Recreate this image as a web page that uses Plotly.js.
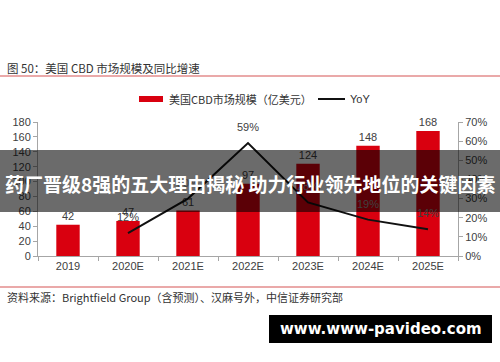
<!DOCTYPE html>
<html><head><meta charset="utf-8">
<script src="https://cdn.plot.ly/plotly-3.0.1.min.js"></script>
<style>html,body{margin:0;padding:0;background:#fff;}#chart{width:500px;height:362px;}</style>
</head><body><div id="chart"></div>
<script>
const categories = ['2019','2020E','2021E','2022E','2023E','2024E','2025E'];
const marketSize = [42, 47, 61, 97, 124, 148, 168];
const yoyCats = ['2020E','2021E','2022E','2023E','2024E','2025E'];
const yoy = [0.12, 0.30, 0.59, 0.28, 0.19, 0.14];
const yoyLabels = ['12%','30%','59%','28%','19%','14%'];
const leftTicks = [0,20,40,60,80,100,120,140,160,180];
const rightTicks = [0,0.1,0.2,0.3,0.4,0.5,0.6,0.7];
const rightTickLabels = ['0%','10%','20%','30%','40%','50%','60%','70%'];

const FONT = 'Liberation Sans, Arial, Noto Sans CJK SC, sans-serif';
const CJK = 'Noto Sans CJK SC, Liberation Sans, sans-serif';
const L = 38, R = 458, T = 122, B = 256, W = 500, H = 362;
const px = x => (x - L) / (R - L);
const py = y => (B - y) / (B - T);

const traces = [
  {type:'bar', x:categories, y:marketSize, name:'美国CBD市场规模（亿美元）',
   marker:{color:'#d9000f'}, width:0.39,
   text:marketSize.map(String), textposition:'outside', cliponaxis:false,
   textfont:{family:FONT, size:11, color:'#404040'}, hoverinfo:'skip'},
  {type:'scatter', mode:'lines', x:yoyCats, y:yoy, yaxis:'y2', name:'YoY',
   line:{color:'#111', width:2}, cliponaxis:false, hoverinfo:'skip'}
];

const yoyAnnotations = yoyCats.map((c, i) => ({
  x:c, y:yoy[i], xref:'x', yref:'y2', yshift:16, showarrow:false,
  xanchor:'center', yanchor:'middle', text:yoyLabels[i],
  font:{family:FONT, size:11, color:'#404040'}
}));

const layout = {
  width:W, height:H, margin:{l:L, r:W-R, t:T, b:H-B},
  paper_bgcolor:'#fff', plot_bgcolor:'#fff', showlegend:false,
  font:{family:FONT, size:11, color:'#404040'},
  bargap:0.6,
  xaxis:{type:'category', categoryorder:'array', categoryarray:categories,
    showline:true, linecolor:'#a6a6a6', linewidth:1, ticks:'outside', tickson:'boundaries',
    ticklen:4, tickcolor:'#a6a6a6', tickfont:{family:FONT, size:11, color:'#404040'},
    showgrid:false, zeroline:false, fixedrange:true},
  yaxis:{range:[0,180], tickvals:leftTicks, showline:true, linecolor:'#a6a6a6',
    ticks:'outside', ticklen:4, tickcolor:'#a6a6a6', showgrid:false, zeroline:false,
    tickfont:{family:FONT, size:11, color:'#404040'}, fixedrange:true},
  yaxis2:{range:[0,0.7], overlaying:'y', side:'right', tickvals:rightTicks, ticktext:rightTickLabels,
    showline:true, linecolor:'#a6a6a6', ticks:'outside', ticklen:4, tickcolor:'#a6a6a6',
    showgrid:false, zeroline:false, tickfont:{family:FONT, size:11, color:'#404040'}, fixedrange:true},
  shapes:[
    {type:'line', xref:'paper', yref:'paper', x0:px(0), x1:px(500), y0:py(76), y1:py(76),
     line:{color:'#eaa9a9', width:2}},
    {type:'line', xref:'paper', yref:'paper', x0:px(0), x1:px(500), y0:py(287), y1:py(287),
     line:{color:'#eaa9a9', width:2}},
    {type:'rect', xref:'paper', yref:'paper', x0:px(139), x1:px(163), y0:py(96), y1:py(102),
     fillcolor:'#d9000f', line:{width:0}},
    {type:'line', xref:'paper', yref:'paper', x0:px(318), x1:px(345), y0:py(99), y1:py(99),
     line:{color:'#111', width:2}},
    {type:'rect', xref:'paper', yref:'paper', x0:px(0), x1:px(500), y0:py(212), y1:py(150),
     fillcolor:'rgba(0,0,0,0.58)', line:{width:0}, layer:'above'},
    {type:'rect', xref:'paper', yref:'paper', x0:px(269), x1:px(492), y0:py(343), y1:py(315),
     fillcolor:'#000', line:{width:0}, layer:'above'}
  ],
  annotations: yoyAnnotations.concat([
    {xref:'paper', yref:'paper', x:px(5), y:py(68), xanchor:'left', yanchor:'middle', showarrow:false,
     text:'图 50：美国 CBD 市场规模及同比增速', font:{family:CJK, size:11.5, color:'#333'}},
    {xref:'paper', yref:'paper', x:px(167), y:py(99), xanchor:'left', yanchor:'middle', showarrow:false,
     text:'美国CBD市场规模（亿美元）', font:{family:CJK, size:11, color:'#333'}},
    {xref:'paper', yref:'paper', x:px(348), y:py(99), xanchor:'left', yanchor:'middle', showarrow:false,
     text:'YoY', font:{family:FONT, size:11, color:'#333'}},
    {xref:'paper', yref:'paper', x:px(5), y:py(297), xanchor:'left', yanchor:'middle', showarrow:false,
     text:'资料来源：Brightfield Group（含预测）、汉麻号外，中信证券研究部', font:{family:CJK, size:11, color:'#333'}},
    {xref:'paper', yref:'paper', x:px(250), y:py(183), xanchor:'center', yanchor:'middle', showarrow:false,
     text:'<b>药厂晋级8强的五大理由揭秘 助力行业领先地位的关键因素</b>', font:{family:CJK, size:19, color:'#fff'}},
    {xref:'paper', yref:'paper', x:px(381), y:py(329), xanchor:'center', yanchor:'middle', showarrow:false,
     text:'<b>www.www-pavideo.com</b>', font:{family:'DejaVu Sans, sans-serif', size:15, color:'#fff'}}
  ])
};
Plotly.newPlot('chart', traces, layout, {displayModeBar:false, staticPlot:true});
</script></body></html>
